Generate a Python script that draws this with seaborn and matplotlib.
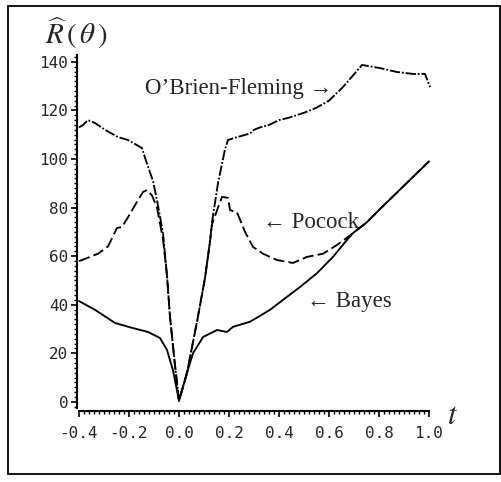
import pandas as pd
import numpy as np
import matplotlib.pyplot as plt
import seaborn as sns
from matplotlib.patches import Rectangle
from matplotlib.ticker import MultipleLocator

# Values
obf_t = [-0.40, -0.384, -0.364, -0.336, -0.296, -0.244, -0.204, -0.148, -0.128, -0.104,
         -0.088, -0.064, -0.048, -0.036, -0.016, 0.0, 0.032, 0.072, 0.104, 0.124, 0.132,
         0.156, 0.184, 0.196, 0.22, 0.25, 0.284, 0.30, 0.324, 0.36, 0.40, 0.44, 0.50,
         0.548, 0.60, 0.656, 0.732, 0.804, 0.872, 0.936, 0.984, 1.004]
obf_r = [113, 114, 116, 114.8, 112, 109, 107.8, 104.5, 98, 91,
         83, 69.5, 52, 35, 15, 0.5, 12, 33, 51, 66, 74,
         90, 104, 107.8, 108.6, 109.5, 110.5, 112, 113, 114, 116, 117, 119,
         121, 124, 129.6, 138.7, 137.4, 135.8, 135, 135, 129.6]

pocock_t = [-0.40, -0.388, -0.324, -0.284, -0.248, -0.228, -0.204, -0.176, -0.144, -0.128,
            -0.108, -0.088, -0.064, -0.048, -0.036, -0.016, 0.0, 0.032, 0.072, 0.104,
            0.124, 0.132, 0.156, 0.172, 0.196, 0.204, 0.232, 0.264, 0.296, 0.336,
            0.392, 0.456, 0.512, 0.576, 0.632, 0.664, 0.696, 0.752, 0.80, 0.90, 1.0]
pocock_r = [58, 58.4, 61, 64, 71.6, 72, 76, 81, 86.4, 87.2,
            85, 80, 67, 52, 35, 15, 0.5, 12, 33, 51,
            66, 73, 80, 84.4, 84, 79, 78, 70, 63.8, 61,
            58.4, 57.2, 59.7, 61, 64.6, 67, 69.5, 74, 79, 89, 99]

bayes_t = [-0.40, -0.336, -0.256, -0.188, -0.124, -0.076, -0.048, -0.024, 0.0, 0.032,
           0.056, 0.096, 0.152, 0.192, 0.216, 0.284, 0.364, 0.416, 0.484, 0.552,
           0.616, 0.672, 0.696, 0.752, 0.80, 0.90, 1.0]
bayes_r = [41.5, 37.9, 32.5, 30.5, 28.8, 26.3, 21.4, 13, 0.5, 12,
           20, 26.7, 29.6, 28.8, 30.9, 33, 37.9, 42, 47.3, 53,
           59.7, 66.7, 69.5, 74, 79, 89, 99]

methods = ['OBF', 'Pocock', 'Bayes']
x_ticks = [-0.4, -0.2, 0.0, 0.2, 0.4, 0.6, 0.8, 1.0]
y_ticks = [0, 20, 40, 60, 80, 100, 120, 140]

df = pd.concat([
    pd.DataFrame({'t': obf_t, 'R': obf_r, 'method': 'OBF'}),
    pd.DataFrame({'t': pocock_t, 'R': pocock_r, 'method': 'Pocock'}),
    pd.DataFrame({'t': bayes_t, 'R': bayes_r, 'method': 'Bayes'}),
], ignore_index=True)

sns.set_style('white')
plt.rcParams['axes.unicode_minus'] = False
plt.rcParams['mathtext.fontset'] = 'stix'

fig = plt.figure(figsize=(5.02, 4.82), dpi=100)
# axes placed in pixel terms: x -0.4..1.0 -> 79..429 px, y -2.5..143 -> 408..54.5 px
ax = fig.add_axes([79 / 502, (482 - 408) / 482, 350 / 502, (408 - 54.5) / 482])

sns.lineplot(data=df, x='t', y='R', style='method', style_order=methods,
             dashes={'OBF': (5.5, 1, 1, 1), 'Pocock': (6, 2.2), 'Bayes': ''},
             color='black', linewidth=1.35, sort=False, estimator=None,
             legend=False, ax=ax)
for ln in ax.lines:
    ln.set_clip_on(False)

ax.set_xlim(-0.4, 1.0)
ax.set_ylim(-2.5, 143)
ax.set_xticks(x_ticks)
ax.set_yticks(y_ticks)
ax.set_xticklabels([f'{v:.1f}' for v in x_ticks])
ax.set_yticklabels([str(v) for v in y_ticks])
ax.xaxis.set_minor_locator(MultipleLocator(0.02))
ax.yaxis.set_minor_locator(MultipleLocator(2))
ax.set_xlabel('')
ax.set_ylabel('')

for s in ['top', 'right']:
    ax.spines[s].set_visible(False)
ax.spines['left'].set_position(('outward', 1.5))
ax.spines['bottom'].set_position(('outward', 2.2))
for s in ['left', 'bottom']:
    ax.spines[s].set_linewidth(1.5)
    ax.spines[s].set_color('black')

ax.tick_params(which='major', direction='out', length=4.3, width=1.2, color='black',
               left=True, bottom=True)
ax.tick_params(which='minor', direction='out', length=2.3, width=1.0, color='black',
               left=True, bottom=True)
ax.tick_params(axis='y', which='major', pad=2)
ax.tick_params(axis='x', which='major', pad=6.5)
for lab in ax.get_xticklabels() + ax.get_yticklabels():
    lab.set_family('DejaVu Sans Mono')
    lab.set_fontsize(11.5)

# curve labels
serif = ['Liberation Serif', 'DejaVu Serif']
ax.text(-0.136, 129.2, 'O\u2019Brien-Fleming \u2192', family=serif, fontsize=16.5,
        ha='left', va='center')
ax.text(0.336, 73.7, '\u2190 Pocock', family=serif, fontsize=16.5, ha='left', va='center')
ax.text(0.512, 41.2, '\u2190 Bayes', family=serif, fontsize=16.5, ha='left', va='center')

fig.text(76 / 502, 1 - 33 / 482, r'$\widehat{R}\,(\,\theta\,)$', fontsize=21,
         ha='center', va='center')
fig.text(453 / 502, 1 - 415 / 482, r'$t$', fontsize=22, ha='center', va='center')

fig.patches.append(Rectangle((8 / 502, 1 - 474 / 482), 492 / 502, 468 / 482,
                             transform=fig.transFigure, fill=False,
                             edgecolor='black', linewidth=1.3))

fig.savefig('out.png', dpi=100)
